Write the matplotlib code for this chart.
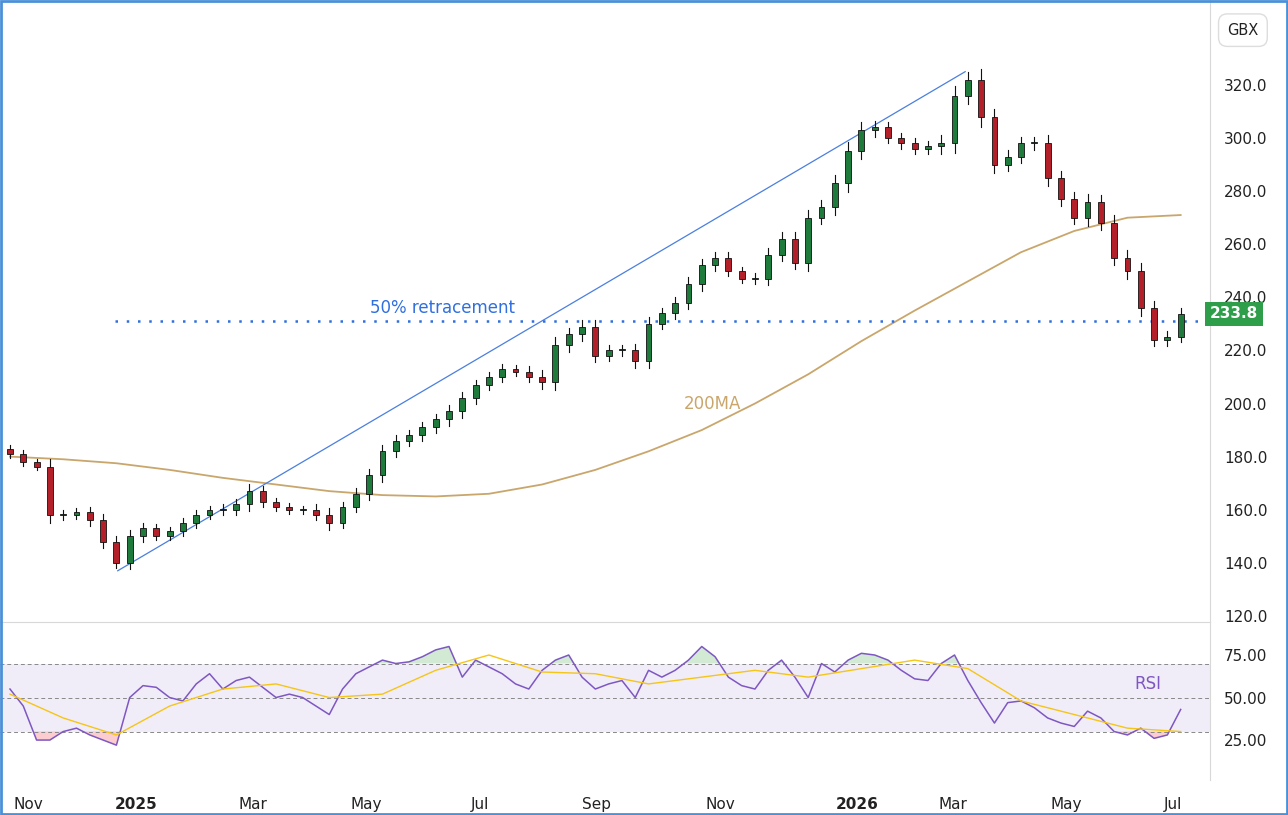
import numpy as np
import matplotlib
matplotlib.use("Agg")
import matplotlib.pyplot as plt
from matplotlib.patches import Rectangle

# weekly closes (GBX)
closes = [181, 178, 176, 158, 158, 159, 156, 148, 140, 150,
          153, 150, 152, 155, 158, 160, 160, 162, 167, 163,
          161, 160, 160, 158, 155, 161, 166, 173, 182, 186,
          188, 191, 194, 197, 202, 207, 210, 213, 212, 210,
          208, 222, 226, 229, 218, 220, 220, 216, 230, 234,
          238, 245, 252, 255, 250, 247, 247, 256, 262, 253,
          270, 274, 283, 295, 303, 304, 300, 298, 296, 297,
          298, 316, 322, 308, 290, 293, 298, 298, 285, 277,
          270, 276, 268, 255, 250, 236, 224, 225, 233.8]
first_open = 183
wick = [3, 3, 2, 6, 4, 3, 4, 5, 4, 5,
        4, 3, 3, 4, 4, 3, 4, 4, 5, 4,
        3, 3, 3, 4, 5, 4, 4, 5, 5, 4,
        4, 4, 4, 5, 5, 4, 4, 4, 3, 4,
        5, 6, 5, 5, 5, 4, 4, 5, 5, 4,
        4, 5, 5, 4, 4, 3, 4, 5, 5, 5,
        6, 5, 6, 7, 6, 5, 4, 4, 4, 4,
        6, 7, 6, 8, 6, 5, 5, 5, 6, 5,
        5, 6, 5, 6, 6, 6, 5, 5, 4]

# 200-day moving average, sampled every 4 weeks
ma_weeks = [0, 4, 8, 12, 16, 20, 24, 28, 32, 36, 40, 44, 48, 52, 56, 60, 64, 68, 72, 76, 80, 84, 88]
ma_vals = [180, 179, 177.5, 175, 172, 169.5, 167, 165.5, 165, 166, 169.5, 175, 182, 190, 200, 211, 223.5, 235, 246, 257, 265, 270, 271]

# RSI (weekly) and its signal line
rsi = [55, 45, 25, 25, 30, 32, 28, 25, 22, 50,
       57, 56, 50, 48, 58, 64, 55, 60, 62, 56,
       50, 52, 50, 45, 40, 55, 64, 68, 72, 70,
       71, 74, 78, 80, 62, 72, 68, 64, 58, 55,
       66, 72, 75, 62, 55, 58, 60, 50, 66, 62,
       66, 72, 80, 74, 62, 57, 55, 66, 72, 62,
       50, 70, 65, 72, 76, 75, 72, 66, 61, 60,
       70, 75, 60, 47, 35, 47, 48, 44, 38, 35,
       33, 42, 38, 30, 28, 32, 26, 28, 43]
sig_weeks = [0, 4, 8, 12, 16, 20, 24, 28, 32, 36, 40, 44, 48, 52, 56, 60, 64, 68, 72, 76, 80, 84, 88]
sig_vals = [52, 38, 28, 45, 55, 58, 50, 52, 66, 75, 65, 64, 58, 62, 66, 62, 67, 72, 67, 48, 40, 32, 30]

tick_pos = [1.35, 9.5, 18.3, 26.8, 35.3, 44.1, 53.4, 63.7, 70.9, 79.4, 87.4]
tick_lab = ["Nov", "2025", "Mar", "May", "Jul", "Sep", "Nov", "2026", "Mar", "May", "Jul"]
bold_ticks = {"2025", "2026"}

retrace = 231.1
trend = ([8.1, 71.8], [137, 325])

weeks = np.arange(len(closes))
opens = [first_open] + closes[:-1]

fig = plt.figure(figsize=(12.88, 8.15), dpi=100)
ax = fig.add_axes([0, 0.2368, 0.9394, 0.7632])
ax2 = fig.add_axes([0, 0.0429, 0.9394, 0.1939], sharex=ax)

up_c, dn_c = "#1e7b3c", "#b3202a"
for w, o, c, r in zip(weeks, opens, closes, wick):
    col = up_c if c >= o else dn_c
    hi, lo = max(o, c) + r / 2, min(o, c) - r / 2
    ax.plot([w, w], [lo, hi], color="#111111", lw=0.8, zorder=2)
    ax.add_patch(Rectangle((w - 0.22, min(o, c)), 0.44, max(abs(c - o), 0.4),
                           facecolor=col, edgecolor="#111111", lw=0.6, zorder=3))

ax.plot(ma_weeks, ma_vals, color="#c9a66b", lw=1.3, zorder=1)
ax.plot(*trend, color="#4a7fe0", lw=0.9, zorder=1)
ax.hlines(retrace, 7.9, 91, colors="#2f6fe0", linestyles=(0, (1, 3.5)), lw=1.8)
ax.text(32.5, retrace + 1.5, "50% retracement", color="#2f6fe0", fontsize=12, ha="center", va="bottom")
ax.text(52.8, 200, "200MA", color="#c9a66b", fontsize=12, ha="center", va="center")

ax.set_xlim(-0.75, 90.2)
ax.set_ylim(117.7, 352)
ax.yaxis.tick_right()
ax.set_yticks(range(120, 321, 20))
ax.set_yticklabels([f"{v:.1f}" for v in range(120, 321, 20)])
ax.tick_params(axis="y", length=0, labelsize=11, pad=10, colors="#222222")
ax.tick_params(axis="x", bottom=False, labelbottom=False)
for s in ["top", "left", "bottom"]:
    ax.spines[s].set_visible(False)
ax.spines["right"].set_color("#d8d8d8")
ax.text(1.0, retrace + 2.7, "233.8", transform=ax.get_yaxis_transform(), color="white",
        fontsize=11, ha="left", va="center", fontweight="bold",
        bbox=dict(boxstyle="square,pad=0.3", fc="#2e9e4a", ec="none"))
fig.text(0.965, 0.963, "GBX", fontsize=10.5, ha="center", va="center", color="#222222",
         bbox=dict(boxstyle="round,pad=0.6", fc="white", ec="#dddddd"))

# RSI panel
ax2.axhspan(30, 70, color="#7e57c2", alpha=0.1, lw=0)
for lv in (30, 50, 70):
    ax2.axhline(lv, color="#888888", ls=(0, (4, 3)), lw=0.7)
r = np.array(rsi, dtype=float)
ax2.fill_between(weeks, r, 70, where=r > 70, interpolate=True, color="#4caf50", alpha=0.25, lw=0)
ax2.fill_between(weeks, r, 30, where=r < 30, interpolate=True, color="#f23645", alpha=0.25, lw=0)
ax2.plot(weeks, rsi, color="#7e57c2", lw=1.1)
ax2.plot(sig_weeks, sig_vals, color="#f5c518", lw=1.0)
ax2.text(85.5, 58, "RSI", color="#7e57c2", fontsize=12, ha="center", va="center")
ax2.set_ylim(1.5, 94.4)
ax2.yaxis.tick_right()
ax2.set_yticks([25, 50, 75])
ax2.set_yticklabels(["25.00", "50.00", "75.00"])
ax2.tick_params(axis="y", length=0, labelsize=11, pad=10, colors="#222222")
ax2.set_xticks(tick_pos)
ax2.set_xticklabels(tick_lab)
ax2.tick_params(axis="x", length=0, labelsize=11, pad=12, colors="#222222")
for t in ax2.get_xticklabels():
    if t.get_text() in bold_ticks:
        t.set_fontweight("bold")
ax2.spines["top"].set_color("#d8d8d8")
ax2.spines["bottom"].set_visible(False)
ax2.spines["left"].set_visible(False)
ax2.spines["right"].set_color("#d8d8d8")

fig.patches.append(Rectangle((0.001, 0.001), 0.998, 0.998, transform=fig.transFigure,
                             fill=False, ec="#4a90d9", lw=2))
fig.savefig("out.png", dpi=100)
